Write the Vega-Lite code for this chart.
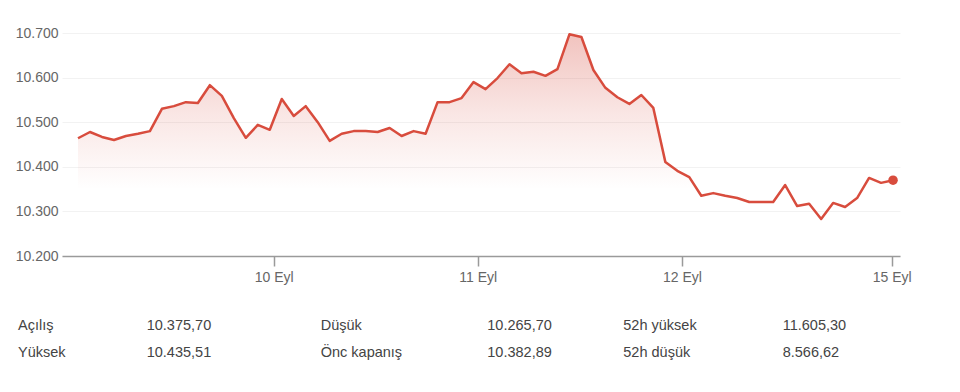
{
  "$schema": "https://vega.github.io/schema/vega-lite/v6.json",
  "autosize": {"type": "none"},
  "padding": {"left": 62, "top": 33, "right": 60, "bottom": 136},
  "width": 838,
  "height": 223,
  "background": "white",
  "config": {
    "view": {"stroke": null},
    "font": "Liberation Sans",
    "axis": {"labelFont": "Liberation Sans", "labelFontSize": 14, "labelColor": "#666666"}
  },
  "datasets": {
    "prices": [
      {"i": 0, "v": 10464}, {"i": 1, "v": 10478}, {"i": 2, "v": 10467}, {"i": 3, "v": 10460},
      {"i": 4, "v": 10469}, {"i": 5, "v": 10474}, {"i": 6, "v": 10480}, {"i": 7, "v": 10530},
      {"i": 8, "v": 10536}, {"i": 9, "v": 10545}, {"i": 10, "v": 10543}, {"i": 11, "v": 10583},
      {"i": 12, "v": 10559}, {"i": 13, "v": 10509}, {"i": 14, "v": 10465}, {"i": 15, "v": 10494},
      {"i": 16, "v": 10483}, {"i": 17, "v": 10552}, {"i": 18, "v": 10514}, {"i": 19, "v": 10536},
      {"i": 20, "v": 10500}, {"i": 21, "v": 10458}, {"i": 22, "v": 10474}, {"i": 23, "v": 10480},
      {"i": 24, "v": 10480}, {"i": 25, "v": 10478}, {"i": 26, "v": 10487}, {"i": 27, "v": 10469},
      {"i": 28, "v": 10480}, {"i": 29, "v": 10474}, {"i": 30, "v": 10545}, {"i": 31, "v": 10545},
      {"i": 32, "v": 10554}, {"i": 33, "v": 10590}, {"i": 34, "v": 10574}, {"i": 35, "v": 10599},
      {"i": 36, "v": 10630}, {"i": 37, "v": 10610}, {"i": 38, "v": 10613}, {"i": 39, "v": 10604},
      {"i": 40, "v": 10619}, {"i": 41, "v": 10697}, {"i": 42, "v": 10691}, {"i": 43, "v": 10617},
      {"i": 44, "v": 10577}, {"i": 45, "v": 10556}, {"i": 46, "v": 10541}, {"i": 47, "v": 10561},
      {"i": 48, "v": 10532}, {"i": 49, "v": 10411}, {"i": 50, "v": 10391}, {"i": 51, "v": 10377},
      {"i": 52, "v": 10335}, {"i": 53, "v": 10341}, {"i": 54, "v": 10335}, {"i": 55, "v": 10330},
      {"i": 56, "v": 10321}, {"i": 57, "v": 10321}, {"i": 58, "v": 10321}, {"i": 59, "v": 10359},
      {"i": 60, "v": 10312}, {"i": 61, "v": 10317}, {"i": 62, "v": 10283}, {"i": 63, "v": 10319},
      {"i": 64, "v": 10310}, {"i": 65, "v": 10330}, {"i": 66, "v": 10375}, {"i": 67, "v": 10364},
      {"i": 68, "v": 10370}
    ],
    "stats": [
      {"row": 0, "col": 0, "kind": "label", "text": "Açılış"},
      {"row": 0, "col": 1, "kind": "value", "text": "10.375,70"},
      {"row": 0, "col": 2, "kind": "label", "text": "Düşük"},
      {"row": 0, "col": 3, "kind": "value", "text": "10.265,70"},
      {"row": 0, "col": 4, "kind": "label", "text": "52h yüksek"},
      {"row": 0, "col": 5, "kind": "value", "text": "11.605,30"},
      {"row": 1, "col": 0, "kind": "label", "text": "Yüksek"},
      {"row": 1, "col": 1, "kind": "value", "text": "10.435,51"},
      {"row": 1, "col": 2, "kind": "label", "text": "Önc kapanış"},
      {"row": 1, "col": 3, "kind": "value", "text": "10.382,89"},
      {"row": 1, "col": 4, "kind": "label", "text": "52h düşük"},
      {"row": 1, "col": 5, "kind": "value", "text": "8.566,62"}
    ]
  },
  "layer": [
    {
      "data": {"name": "prices"},
      "layer": [
        {
          "mark": {
            "type": "area",
            "color": {
              "gradient": "linear",
              "x1": 0, "y1": 0, "x2": 0, "y2": 1,
              "stops": [
                {"offset": 0, "color": "rgba(214,74,60,0.33)"},
                {"offset": 0.35, "color": "rgba(214,74,60,0.14)"},
                {"offset": 0.7, "color": "rgba(214,74,60,0)"},
                {"offset": 1, "color": "rgba(214,74,60,0)"}
              ]
            }
          },
          "encoding": {
            "x": {
              "field": "i", "type": "quantitative",
              "scale": {"domain": [-1.335, 68.58], "nice": false, "zero": false},
              "axis": {
                "values": [16.33, 33.35, 50.39, 67.89],
                "labelExpr": "datum.value < 20 ? '10 Eyl' : datum.value < 40 ? '11 Eyl' : datum.value < 60 ? '12 Eyl' : '15 Eyl'",
                "title": null,
                "grid": false,
                "domainColor": "#9a9a9a",
                "domainWidth": 1.5,
                "tickColor": "#9a9a9a",
                "tickWidth": 1.5,
                "tickSize": 10,
                "labelPadding": 4,
                "labelFlush": false
              }
            },
            "y": {
              "field": "v", "type": "quantitative",
              "scale": {"domain": [10200, 10700], "nice": false, "zero": false},
              "axis": {
                "values": [10200, 10300, 10400, 10500, 10600, 10700],
                "labelExpr": "replace(format(datum.value, ',.0f'), ',', '.')",
                "title": null,
                "domain": false,
                "ticks": false,
                "labelPadding": 4,
                "gridColor": "#f2f2f2",
                "gridWidth": 1
              }
            },
            "y2": {"datum": 10200}
          }
        },
        {
          "mark": {"type": "line", "color": "#d84c3d", "strokeWidth": 2.5, "strokeJoin": "round"},
          "encoding": {
            "x": {"field": "i", "type": "quantitative"},
            "y": {"field": "v", "type": "quantitative"}
          }
        },
        {
          "transform": [{"filter": "datum.i == 68"}],
          "mark": {"type": "point", "filled": true, "color": "#d84c3d", "opacity": 1, "size": 90},
          "encoding": {
            "x": {"field": "i", "type": "quantitative"},
            "y": {"field": "v", "type": "quantitative"}
          }
        }
      ]
    },
    {
      "data": {"name": "stats"},
      "mark": {"type": "text", "align": "left", "baseline": "alphabetic", "font": "Liberation Sans", "fontSize": 14.5, "color": "#444444"},
      "encoding": {
        "x": {
          "field": "col", "type": "quantitative",
          "scale": {"domain": [0, 1, 2, 3, 4, 5], "range": [-44, 84.7, 258.7, 425.3, 561.3, 720.7], "nice": false, "zero": false},
          "axis": null
        },
        "y": {
          "field": "row", "type": "quantitative",
          "scale": {"domain": [0, 1], "range": [297, 324], "nice": false, "zero": false},
          "axis": null
        },
        "text": {"field": "text", "type": "nominal"}
      }
    }
  ],
  "resolve": {"scale": {"x": "independent", "y": "independent"}}
}
